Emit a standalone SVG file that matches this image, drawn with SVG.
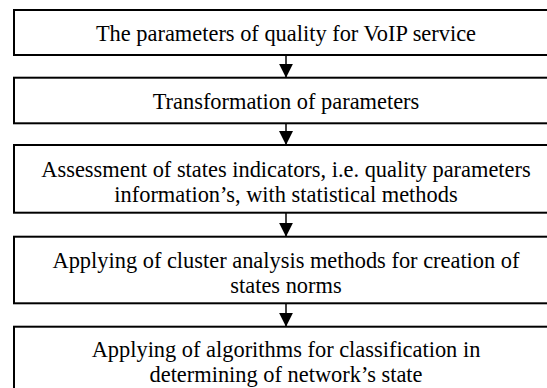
<svg xmlns="http://www.w3.org/2000/svg" width="547" height="388" viewBox="0 0 547 388">
<style>
.box{fill:#fff;stroke:#000;stroke-width:2}
.t{font-family:'Liberation Serif', serif;font-size:22.4px;fill:#000;text-anchor:middle}
.c{stroke:#000;stroke-width:1.5;fill:none}
</style>
<defs>
<marker id="arr" markerUnits="userSpaceOnUse" markerWidth="14" markerHeight="14" refX="14" refY="7" orient="auto">
<path d="M0,0 L14,7 L0,14 z" fill="#000"/>
</marker>
</defs>
<rect width="547" height="388" fill="#fff"/>
<g id="connectors">
<line class="c" x1="286" y1="55" x2="286" y2="77.7" marker-end="url(#arr)"/>
<line class="c" x1="286" y1="123.3" x2="286" y2="145" marker-end="url(#arr)"/>
<line class="c" x1="286" y1="212.7" x2="286" y2="236.7" marker-end="url(#arr)"/>
<line class="c" x1="286" y1="303.3" x2="286" y2="326.7" marker-end="url(#arr)"/>
</g>
<g id="n1">
<rect class="box" x="14" y="10" width="544" height="45"/>
<text class="t" font-family="Liberation Serif" x="286" y="41">The parameters of quality for VoIP service</text>
</g>
<g id="n2">
<rect class="box" x="14" y="77.7" width="544" height="45.6"/>
<text class="t" font-family="Liberation Serif" x="286" y="108.5">Transformation of parameters</text>
</g>
<g id="n3">
<rect class="box" x="14" y="145" width="544" height="67.7"/>
<text class="t" font-family="Liberation Serif" x="286" y="177">Assessment of states indicators, i.e. quality parameters</text>
<text class="t" font-family="Liberation Serif" x="286" y="201.5">information’s, with statistical methods</text>
</g>
<g id="n4">
<rect class="box" x="14" y="236.7" width="544" height="66.6"/>
<text class="t" font-family="Liberation Serif" x="286" y="268">Applying of cluster analysis methods for creation of</text>
<text class="t" font-family="Liberation Serif" x="286" y="292.5">states norms</text>
</g>
<g id="n5">
<rect class="box" x="14" y="326.7" width="544" height="70"/>
<text class="t" font-family="Liberation Serif" x="286" y="357">Applying of algorithms for classification in</text>
<text class="t" font-family="Liberation Serif" x="286" y="381.5">determining of network’s state</text>
</g>
</svg>
